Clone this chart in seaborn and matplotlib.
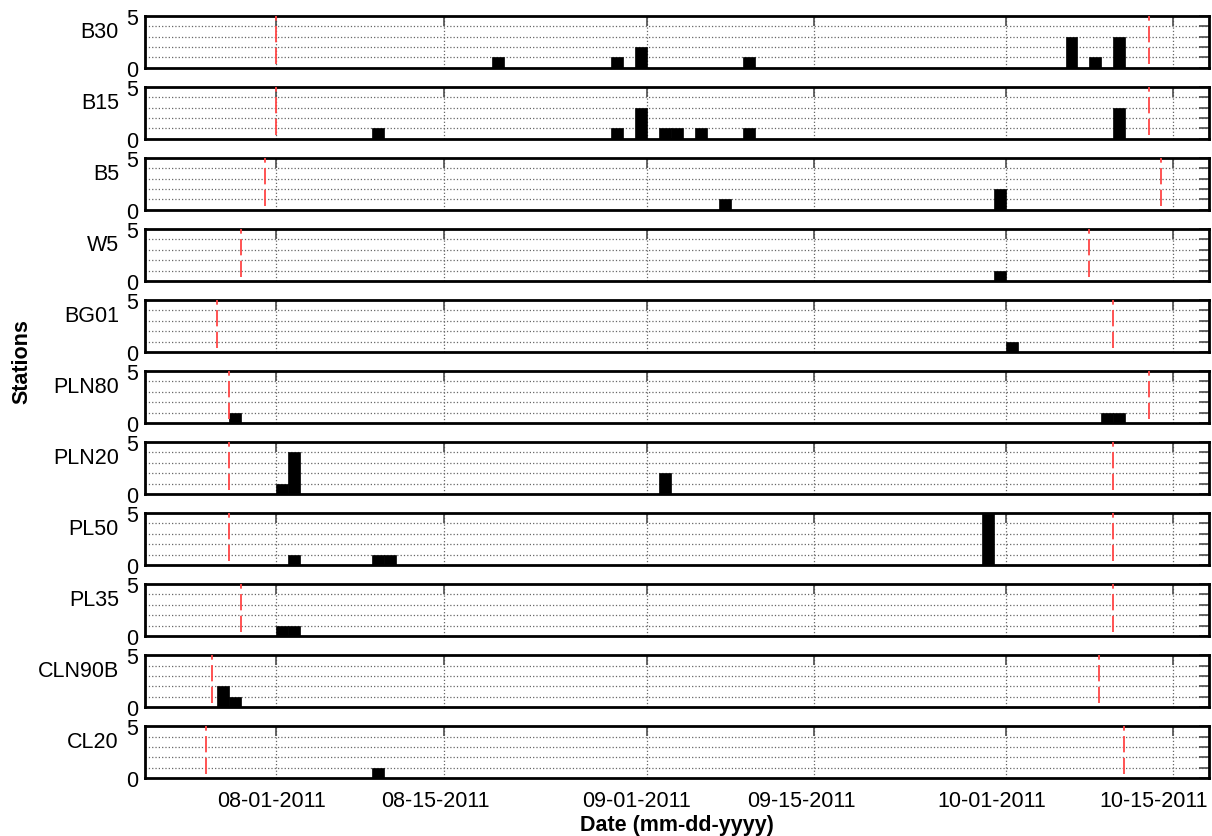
import matplotlib
matplotlib.use("Agg")
import matplotlib.dates as mdates
import matplotlib.pyplot as plt
import numpy as np
import pandas as pd
import seaborn as sns
from matplotlib.ticker import FixedLocator, NullFormatter
from matplotlib.transforms import ScaledTranslation

# stations, top to bottom
stations = ["B30", "B15", "B5", "W5", "BG01", "PLN80", "PLN20", "PL50", "PL35", "CLN90B", "CL20"]

# deployment window (red dashed lines)
deploy_start = ["2011-08-01", "2011-08-01", "2011-07-31", "2011-07-29", "2011-07-27", "2011-07-28",
                "2011-07-28", "2011-07-28", "2011-07-29", "2011-07-26 15:00", "2011-07-26 02:00"]
deploy_end = ["2011-10-13", "2011-10-13", "2011-10-14", "2011-10-08", "2011-10-10", "2011-10-13",
              "2011-10-10", "2011-10-10", "2011-10-10", "2011-10-08 19:00", "2011-10-10 21:00"]

# daily event counts
event_station = ["B30"] * 7 + ["B15"] * 8 + ["B5"] * 2 + ["W5"] + ["BG01"] + ["PLN80"] * 3 \
    + ["PLN20"] * 3 + ["PL50"] * 4 + ["PL35"] * 2 + ["CLN90B"] * 2 + ["CL20"]
event_date = [
    "2011-08-19", "2011-08-29", "2011-08-31", "2011-09-09", "2011-10-06", "2011-10-08", "2011-10-10",
    "2011-08-09", "2011-08-29", "2011-08-31", "2011-09-02", "2011-09-03", "2011-09-05", "2011-09-09", "2011-10-10",
    "2011-09-07", "2011-09-30",
    "2011-09-30",
    "2011-10-01",
    "2011-07-28", "2011-10-09", "2011-10-10",
    "2011-08-01", "2011-08-02", "2011-09-02",
    "2011-08-02", "2011-08-09", "2011-08-10", "2011-09-29",
    "2011-08-01", "2011-08-02",
    "2011-07-27", "2011-07-28",
    "2011-08-09",
]
event_count = [1, 1, 2, 1, 3, 1, 3,
               1, 1, 3, 1, 1, 1, 1, 3,
               1, 2,
               1,
               1,
               1, 1, 1,
               1, 4, 2,
               1, 1, 1, 5,
               1, 1,
               2, 1,
               1]

tick_dates = ["2011-08-01", "2011-08-15", "2011-09-01", "2011-09-15", "2011-10-01", "2011-10-15"]
x_start, x_end = "2011-07-21", "2011-10-18"

sns.set_theme(style="white")
plt.rcParams["font.family"] = ["Liberation Sans", "DejaVu Sans"]
plt.rcParams["text.color"] = "black"
plt.rcParams["axes.labelcolor"] = "black"
plt.rcParams["xtick.labelcolor"] = "black"
plt.rcParams["ytick.labelcolor"] = "black"

df = pd.DataFrame({"station": event_station,
                   "day": mdates.date2num(pd.to_datetime(event_date)),
                   "count": event_count})
x0 = mdates.date2num(pd.Timestamp(x_start))
x1 = mdates.date2num(pd.Timestamp(x_end))
ticks = mdates.date2num(pd.to_datetime(tick_dates))

fig, axes = plt.subplots(len(stations), 1, figsize=(12.12, 8.37), dpi=100, sharex=True)
fig.subplots_adjust(left=0.1196, right=0.9975, top=0.9797, bottom=0.0693, hspace=0.37)

for i, (ax, st) in enumerate(zip(axes, stations)):
    sub = df[df["station"] == st]
    sns.histplot(data=sub, x="day", weights="count", binwidth=1, binrange=(x0, x1),
                 color="black", edgecolor="black", linewidth=0.5, alpha=1, ax=ax)
    for d in (deploy_start[i], deploy_end[i]):
        ax.axvline(mdates.date2num(pd.Timestamp(d)), ymin=0.08, ymax=1, color="#ff4545",
                   lw=1.3, ls=(0, (9, 3)), zorder=5)

    ax.set_xlim(x0, x1)
    ax.set_ylim(0, 5)
    ax.set_axisbelow(True)
    ax.xaxis.set_major_locator(FixedLocator(ticks))
    ax.xaxis.set_major_formatter(mdates.DateFormatter("%m-%d-%Y"))
    ax.yaxis.set_major_locator(FixedLocator([0, 5]))
    ax.yaxis.set_minor_locator(FixedLocator([1, 2, 3, 4]))
    ax.yaxis.set_minor_formatter(NullFormatter())
    ax.grid(which="major", axis="x", ls=":", color="0.4", lw=0.9)
    ax.grid(which="minor", axis="y", ls=":", color="0.4", lw=0.9)
    ax.tick_params(which="both", direction="in", top=True, right=True, length=7, width=1.2,
                   color="0.3", labelsize=15.5, pad=5)
    ax.tick_params(axis="x", pad=9)
    for sp in ax.spines.values():
        sp.set_visible(True)
        sp.set_color("black")
        sp.set_linewidth(2.0)

    ax.set_ylabel(st, rotation=0, fontsize=15.5, ha="right", va="center")
    ax.yaxis.set_label_coords(-0.0244, 0.7)
    ax.set_xlabel("")

# date labels sit a little left of their ticks, the last one kept inside the figure
shifts = [-5, -8, -11, -13, -14, -19]
for lbl, s in zip(axes[-1].get_xticklabels(), shifts):
    lbl.set_transform(lbl.get_transform() + ScaledTranslation(s / 100, 0, fig.dpi_scale_trans))

axes[-1].set_xlabel("Date (mm-dd-yyyy)", fontsize=15.5, fontweight="bold", labelpad=2)
fig.text(0.018, 1 - 362 / 837, "Stations", rotation=90, fontsize=15.5, fontweight="bold",
         ha="center", va="center")

fig.savefig("out.png", dpi=100)
